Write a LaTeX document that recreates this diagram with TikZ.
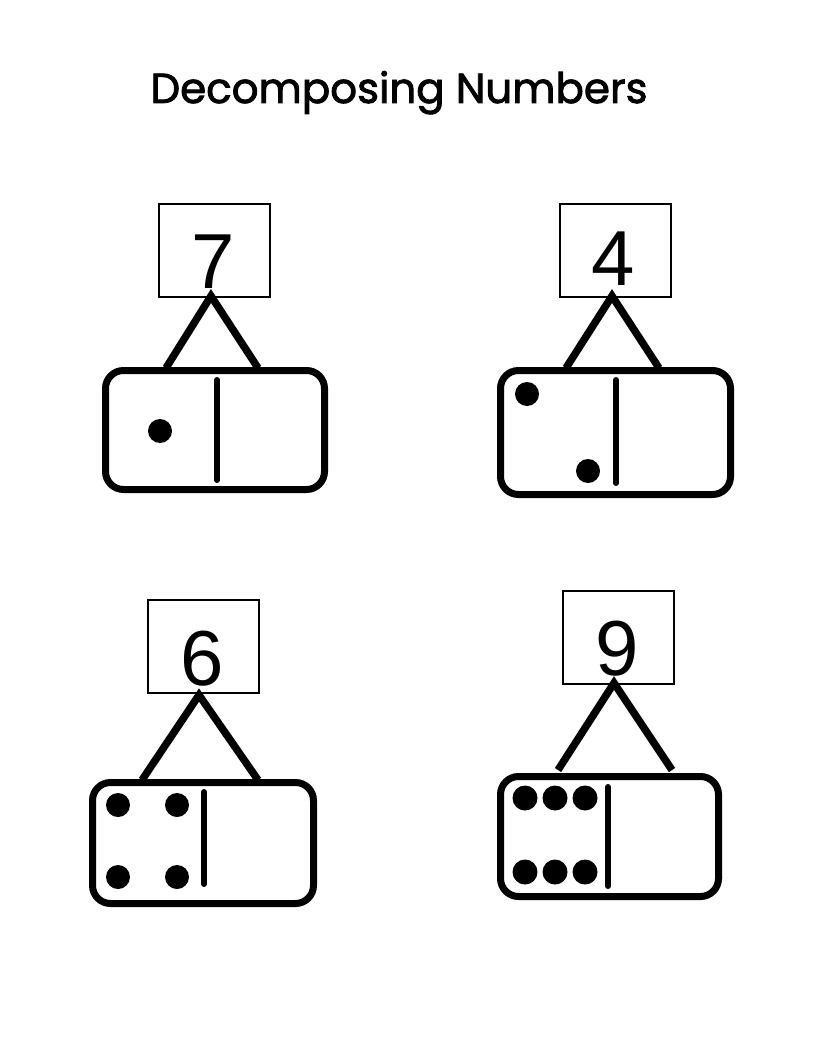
\documentclass[tikz,border=0pt]{standalone}
\usepackage{fontspec}
\setmainfont{Liberation Sans}
\newfontfamily\titlefont[FakeBold=2]{Poppins}
\usetikzlibrary{positioning, calc}

\begin{document}
\begin{tikzpicture}[
            x=1pt, y=-1pt,
            numbox/.style={rectangle, draw, line width=2pt, minimum width=111pt, minimum height=93pt, inner sep=0pt},
            digit/.style={anchor=base, inner sep=0pt, font=\fontsize{78}{78}\selectfont},
            domino/.style={rectangle, draw, line width=7pt, rounded corners=18pt, inner sep=0pt},
            leg/.style={line width=7.5pt},
            divider/.style={line width=6pt, line cap=round},
            pip/.style={fill=black}
        ]
\useasboundingbox (0,0) rectangle (816,1056);

% Title
            \node[anchor=base, inner sep=0pt, font=\titlefont\fontsize{42}{42}\selectfont] (title) at (399,103) {Decomposing Numbers};

% Seven
            \node[numbox] (box7) at (214.5,250.5) {};
            \node[digit] (num7) at (213,288) {7};
            \node[domino, minimum width=219pt, minimum height=119pt] (dom7) at (215,430) {};
            \coordinate (top7) at (211,296);
            \coordinate (left7) at (166,368);
            \coordinate (right7) at (258,368);
            \draw[leg] (left7) -- (top7) -- (right7);
            \draw[divider] (217,380) -- (217,480);
            \fill[pip] (160,431) circle (12);

% Four
            \node[numbox] (box4) at (615,250.5) {};
            \node[digit] (num4) at (613,286) {4};
            \node[domino, minimum width=230pt, minimum height=124pt] (dom4) at (615.5,432.5) {};
            \coordinate (top4) at (612,296);
            \coordinate (left4) at (566,368);
            \coordinate (right4) at (659,368);
            \draw[leg] (left4) -- (top4) -- (right4);
            \draw[divider] (616,380) -- (616,483);
            \fill[pip] (527,394) circle (12);
            \fill[pip] (588,471) circle (12);

% Six
            \node[numbox] (box6) at (203.5,646.5) {};
            \node[digit] (num6) at (202,685) {6};
            \node[domino, minimum width=221pt, minimum height=121pt] (dom6) at (203,843) {};
            \coordinate (top6) at (199,695);
            \coordinate (left6) at (142,780);
            \coordinate (right6) at (258,780);
            \draw[leg] (left6) -- (top6) -- (right6);
            \draw[divider] (204,792) -- (204,884);
            \foreach \x in {118,177}
                \foreach \y in {805,877}
                    \fill[pip] (\x,\y) circle (12);

% Nine
            \node[numbox] (box9) at (618,637.5) {};
            \node[digit] (num9) at (617,675) {9};
            \node[domino, minimum width=218pt, minimum height=120pt] (dom9) at (609.5,836.5) {};
            \coordinate (top9) at (614,683);
            \coordinate (left9) at (558,770);
            \coordinate (right9) at (672,770);
            \draw[leg] (left9) -- (top9) -- (right9);
            \draw[divider] (608,787) -- (608,886);
            \foreach \x in {525,555,585}
                \foreach \y in {798,872}
                    \fill[pip] (\x,\y) circle (12.5);

        \end{tikzpicture}
\end{document}
